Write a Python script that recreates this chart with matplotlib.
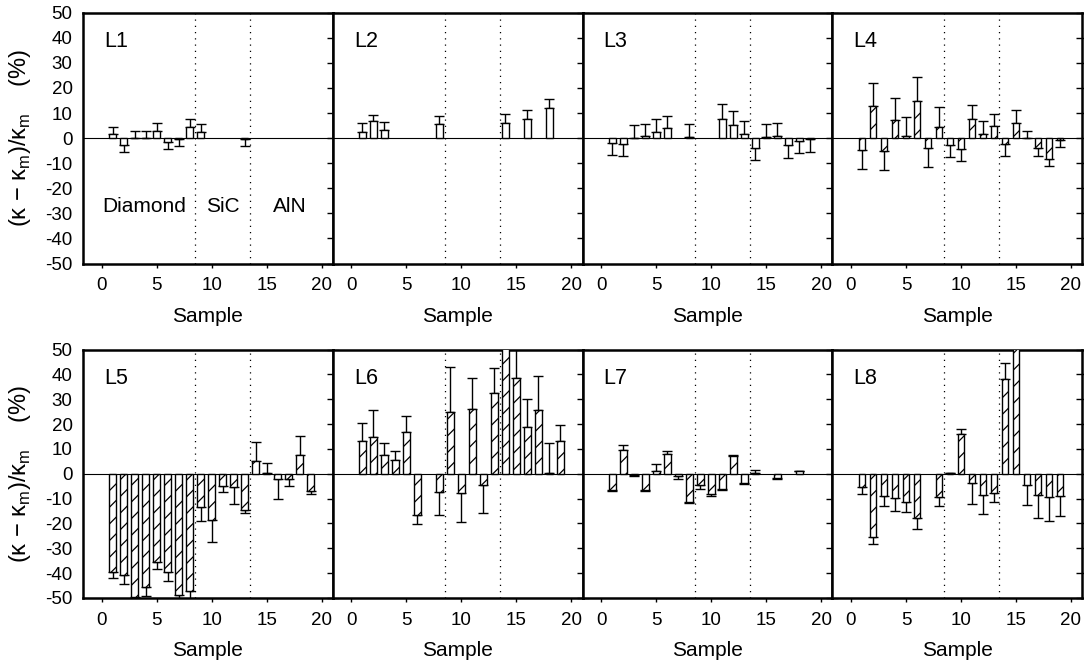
import numpy as np
import matplotlib
matplotlib.use('Agg')
import matplotlib.pyplot as plt

plt.rcParams['font.family'] = ['Liberation Sans', 'DejaVu Sans']
plt.rcParams['mathtext.fontset'] = 'custom'
plt.rcParams['mathtext.rm'] = 'Liberation Sans'
plt.rcParams['axes.unicode_minus'] = False
plt.rcParams['hatch.linewidth'] = 0.9

# sample numbers, deviations (%) and one-sided error lengths for each panel
l1_x = [1, 2, 3, 4, 5, 6, 7, 8, 9, 13]
l1_v = [1.5, -2.8, 0.2, 0.2, 2.8, -1.5, -0.2, 4.5, 2.5, -0.2]
l1_e = [2.8, 2.8, 2.7, 2.8, 3.2, 2.9, 3.0, 3.3, 3.0, 3.0]

l2_x = [1, 2, 3, 8, 14, 16, 18]
l2_v = [2.4, 6.8, 3.3, 5.7, 6.1, 7.6, 12.1]
l2_e = [3.6, 2.5, 3.3, 3.3, 3.5, 3.6, 3.3]

l3_x = [1, 2, 3, 4, 5, 6, 8, 11, 12, 13, 14, 15, 16, 17, 18, 19]
l3_v = [-2.1, -2.5, 0.2, 0.8, 2.4, 4.0, 0.5, 7.8, 5.4, 1.7, -3.9, 0.3, 0.8, -2.9, -1.2, -0.3]
l3_e = [4.5, 4.8, 5.0, 5.0, 5.3, 5.0, 5.1, 5.6, 5.4, 5.1, 4.9, 5.2, 5.2, 5.1, 4.9, 5.2]

l4_x = list(range(1, 20))
l4_v = [-4.9, 12.6, -5.1, 7.4, 0.7, 14.9, -4.0, 4.3, -2.9, -4.4, 7.8, 1.7, 4.7, -2.4, 6.1, 0.2, -4.1, -8.4, -0.6]
l4_e = [7.5, 9.3, 7.7, 8.6, 7.8, 9.3, 7.6, 8.1, 4.7, 4.8, 5.5, 5.1, 5.0, 4.9, 5.2, 2.5, 2.9, 2.8, 3.0]

l5_x = list(range(1, 20))
l5_v = [-39.4, -40.8, -49.5, -45.5, -35.5, -39.5, -48.7, -47.0, -13.5, -18.7, -5.0, -5.2, -14.5, 5.0, 0.2, -2.0, -2.1, 7.4, -7.0]
l5_e = [2.4, 3.4, 3.0, 3.5, 2.7, 3.6, 3.0, 3.5, 5.6, 8.9, 2.2, 7.0, 1.4, 7.6, 4.0, 8.2, 2.7, 7.6, 1.2]

l6_x = [1, 2, 3, 4, 5, 6, 8, 9, 10, 11, 12, 13, 14, 15, 16, 17, 18, 19]
l6_v = [13.3, 14.6, 7.4, 5.6, 16.7, -16.7, -7.4, 25.0, -7.6, 26.2, -4.7, 32.4, 55.0, 38.4, 19.0, 25.8, 0.5, 13.1]
l6_e = [7.2, 11.1, 4.8, 3.6, 6.7, 3.6, 9.3, 18.0, 11.8, 12.5, 11.1, 10.2, 5.0, 15.0, 10.9, 13.7, 11.7, 6.7]

l7_x = [1, 2, 3, 4, 5, 6, 7, 8, 9, 10, 11, 12, 13, 14, 16, 18]
l7_v = [-6.7, 9.4, -0.5, -6.4, 1.1, 8.0, -1.1, -11.4, -4.4, -8.3, -6.2, 7.0, -3.7, 0.2, -1.9, 1.1]
l7_e = [0.4, 2.1, 0.3, 0.6, 3.0, 1.1, 1.2, 0.3, 1.6, 0.8, 0.4, 0.4, 0.4, 1.4, 0.2, 0.2]

l8_x = [1, 2, 3, 4, 5, 6, 8, 9, 10, 11, 12, 13, 14, 15, 16, 17, 18, 19]
l8_v = [-5.4, -25.4, -8.8, -9.9, -11.5, -17.9, -9.5, 0.4, 15.8, -3.7, -8.6, -7.8, 38.0, 55.0, -4.4, -8.6, -9.5, -9.0]
l8_e = [2.9, 2.7, 4.3, 5.2, 3.8, 4.2, 3.6, 0.1, 2.3, 8.6, 7.6, 3.4, 6.4, 5.0, 8.0, 9.3, 9.4, 8.0]

panels = [('L1', l1_x, l1_v, l1_e, ''), ('L2', l2_x, l2_v, l2_e, ''),
          ('L3', l3_x, l3_v, l3_e, ''), ('L4', l4_x, l4_v, l4_e, '//'),
          ('L5', l5_x, l5_v, l5_e, '//'), ('L6', l6_x, l6_v, l6_e, '//'),
          ('L7', l7_x, l7_v, l7_e, '//'), ('L8', l8_x, l8_v, l8_e, '//')]

groups = ['Diamond', 'SiC', 'AlN']
group_x = [3.9, 11.0, 17.1]
borders = [8.5, 13.5]

ylab = '(κ − κ$_\\mathregular{m}$)/κ$_\\mathregular{m}$    (%)'

fig = plt.figure(figsize=(10.84, 6.67), dpi=100)
W, H = 1084., 667.
left = 83.
pw = 249.75
rows = [(12.7, 263.5), (349.5, 598.)]

for i, (name, x, v, e, hatch) in enumerate(panels):
    r, c = divmod(i, 4)
    top, bot = rows[r]
    ax = fig.add_axes([(left + c*pw)/W, 1 - bot/H, pw/W, (bot - top)/H])
    v = np.array(v)
    e = np.array(e)
    lo = np.where(v < 0, e, 0)
    hi = np.where(v >= 0, e, 0)
    ax.axhline(0, color='k', lw=0.8, zorder=1)
    for b in borders:
        ax.axvline(b, color='k', lw=0.9, ls=(0, (1, 4)), zorder=1)
    ax.errorbar(x, v, yerr=[lo, hi], fmt='none', ecolor='k', elinewidth=1.0,
                capsize=3.4, capthick=1.0, zorder=2)
    ax.bar(x, v, width=0.6, color='white', edgecolor='k', linewidth=1.0,
           hatch=hatch, zorder=3)
    ax.set_xlim(-1.7, 21)
    ax.set_ylim(-50, 50)
    ax.set_xticks(np.arange(0, 21, 5))
    ax.set_yticks(np.arange(-50, 51, 10))
    ax.tick_params(axis='x', direction='out', length=3, width=1, labelsize=13.5, pad=7)
    ax.tick_params(axis='y', left=False, right=True, direction='inout', length=9,
                   width=1, labelsize=13.5, pad=3)
    if c != 0:
        ax.tick_params(axis='y', labelleft=False)
    else:
        ax.set_ylabel(ylab, fontsize=17)
        ax.yaxis.set_label_coords(-0.2, 0.5)
    for s in ax.spines.values():
        s.set_linewidth(1.8)
    ax.set_xlabel('Sample', fontsize=15, labelpad=9)
    ax.text(0.085, 0.885, name, transform=ax.transAxes, fontsize=15.5, va='center')
    if i == 0:
        for g, gx in zip(groups, group_x):
            ax.text(gx, -27.3, g, fontsize=15, ha='center', va='center')

fig.savefig('out.png', dpi=100)
